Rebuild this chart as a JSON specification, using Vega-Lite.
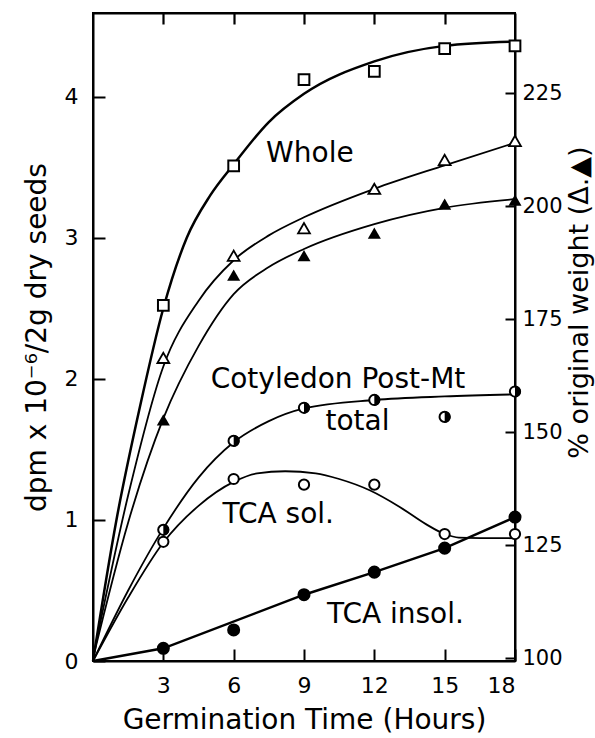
{
  "$schema": "https://vega.github.io/schema/vega-lite/v6.json",
  "autosize": "none",
  "padding": {"left": 93, "top": 13, "right": 80, "bottom": 77},
  "width": 422,
  "height": 648,
  "background": "white",
  "config": {
    "view": {"stroke": "black", "strokeWidth": 2},
    "font": "DejaVu Sans",
    "axis": {
      "grid": false,
      "domainColor": "black",
      "domainWidth": 2,
      "tickColor": "black",
      "tickWidth": 2,
      "labelColor": "black",
      "titleColor": "black",
      "labelFont": "DejaVu Sans",
      "titleFont": "DejaVu Sans",
      "labelFontSize": 22,
      "titleFontWeight": "normal",
      "titleFontSize": 27
    }
  },
  "datasets": {
    "pts": [
      {"t": 3, "v": 2.52, "s": "whole"}, {"t": 6, "v": 3.51, "s": "whole"}, {"t": 9, "v": 4.12, "s": "whole"},
      {"t": 12, "v": 4.18, "s": "whole"}, {"t": 15, "v": 4.34, "s": "whole"}, {"t": 18, "v": 4.36, "s": "whole"},
      {"t": 3, "v": 0.93, "s": "total"}, {"t": 6, "v": 1.56, "s": "total"}, {"t": 9, "v": 1.795, "s": "total"},
      {"t": 12, "v": 1.85, "s": "total"}, {"t": 15, "v": 1.73, "s": "total"}, {"t": 18, "v": 1.91, "s": "total"},
      {"t": 3, "v": 0.845, "s": "sol"}, {"t": 6, "v": 1.29, "s": "sol"}, {"t": 9, "v": 1.25, "s": "sol"},
      {"t": 12, "v": 1.25, "s": "sol"}, {"t": 15, "v": 0.9, "s": "sol"}, {"t": 18, "v": 0.9, "s": "sol"},
      {"t": 3, "v": 0.09, "s": "insol"}, {"t": 6, "v": 0.22, "s": "insol"}, {"t": 9, "v": 0.47, "s": "insol"},
      {"t": 12, "v": 0.63, "s": "insol"}, {"t": 15, "v": 0.8, "s": "insol"}, {"t": 18, "v": 1.02, "s": "insol"}
    ],
    "curves": [
      {"t": 0, "v": 0, "s": "whole"}, {"t": 1, "v": 1.0, "s": "whole"}, {"t": 2, "v": 1.8, "s": "whole"},
      {"t": 3, "v": 2.5, "s": "whole"}, {"t": 4, "v": 3.0, "s": "whole"}, {"t": 5, "v": 3.3, "s": "whole"},
      {"t": 6, "v": 3.52, "s": "whole"}, {"t": 7.5, "v": 3.82, "s": "whole"}, {"t": 9, "v": 4.02, "s": "whole"},
      {"t": 12, "v": 4.25, "s": "whole"}, {"t": 15, "v": 4.36, "s": "whole"}, {"t": 18, "v": 4.39, "s": "whole"},
      {"t": 0, "v": 0, "s": "total"}, {"t": 1.5, "v": 0.5, "s": "total"}, {"t": 3, "v": 0.94, "s": "total"},
      {"t": 4.5, "v": 1.3, "s": "total"}, {"t": 6, "v": 1.55, "s": "total"}, {"t": 7.5, "v": 1.7, "s": "total"},
      {"t": 9, "v": 1.79, "s": "total"}, {"t": 12, "v": 1.85, "s": "total"}, {"t": 15, "v": 1.875, "s": "total"},
      {"t": 18, "v": 1.89, "s": "total"},
      {"t": 0, "v": 0, "s": "sol"}, {"t": 1.5, "v": 0.45, "s": "sol"}, {"t": 3, "v": 0.84, "s": "sol"},
      {"t": 4.5, "v": 1.1, "s": "sol"}, {"t": 6, "v": 1.27, "s": "sol"}, {"t": 7, "v": 1.33, "s": "sol"},
      {"t": 8.2, "v": 1.345, "s": "sol"}, {"t": 9.5, "v": 1.33, "s": "sol"}, {"t": 10.5, "v": 1.29, "s": "sol"},
      {"t": 11.8, "v": 1.21, "s": "sol"}, {"t": 13.1, "v": 1.09, "s": "sol"}, {"t": 14.2, "v": 0.97, "s": "sol"},
      {"t": 15, "v": 0.9, "s": "sol"}, {"t": 15.6, "v": 0.875, "s": "sol"}, {"t": 18, "v": 0.87, "s": "sol"}
    ],
    "insol": [
      {"t": 0, "v": 0}, {"t": 3, "v": 0.09}, {"t": 9, "v": 0.47}, {"t": 12, "v": 0.63}, {"t": 15, "v": 0.8}, {"t": 18, "v": 1.02}
    ],
    "tri": [
      {"t": 3, "p": 166.4, "s": "open"}, {"t": 6, "p": 189, "s": "open"}, {"t": 9, "p": 195.1, "s": "open"},
      {"t": 12, "p": 203.8, "s": "open"}, {"t": 15, "p": 210.2, "s": "open"}, {"t": 18, "p": 214.4, "s": "open"},
      {"t": 3, "p": 152.7, "s": "filled"}, {"t": 6, "p": 184.7, "s": "filled"}, {"t": 9, "p": 189, "s": "filled"},
      {"t": 12, "p": 194, "s": "filled"}, {"t": 15, "p": 200.4, "s": "filled"}, {"t": 18, "p": 201.3, "s": "filled"}
    ],
    "tricurves": [
      {"t": 0, "p": 100, "s": "open"}, {"t": 1.5, "p": 136, "s": "open"}, {"t": 3, "p": 164.5, "s": "open"},
      {"t": 4.5, "p": 179, "s": "open"}, {"t": 6, "p": 188, "s": "open"}, {"t": 7.5, "p": 193.5, "s": "open"},
      {"t": 9, "p": 197.5, "s": "open"}, {"t": 12, "p": 203.8, "s": "open"}, {"t": 15, "p": 209, "s": "open"},
      {"t": 18, "p": 214, "s": "open"},
      {"t": 0, "p": 100, "s": "filled"}, {"t": 1.5, "p": 130, "s": "filled"}, {"t": 3, "p": 153, "s": "filled"},
      {"t": 4.5, "p": 169, "s": "filled"}, {"t": 6, "p": 180.5, "s": "filled"}, {"t": 7.5, "p": 186.5, "s": "filled"},
      {"t": 9, "p": 190.5, "s": "filled"}, {"t": 12, "p": 196, "s": "filled"}, {"t": 15, "p": 199.6, "s": "filled"},
      {"t": 18, "p": 201.5, "s": "filled"}
    ],
    "labels": [
      {"t": 9.25, "v": 3.54, "text": "Whole"},
      {"t": 10.45, "v": 1.935, "text": "Cotyledon Post-Mt"},
      {"t": 11.28, "v": 1.637, "text": "total"},
      {"t": 7.9, "v": 0.976, "text": "TCA sol."},
      {"t": 12.9, "v": 0.267, "text": "TCA insol."}
    ]
  },
  "layer": [
    {
      "encoding": {
        "x": {
          "field": "t", "type": "quantitative",
          "scale": {"domain": [0, 18], "nice": false, "zero": false},
          "axis": {
            "orient": "bottom", "values": [3, 6, 9, 12, 15, 18], "format": "d",
            "tickSize": -12, "labelPadding": 26,
            "title": "Germination Time (Hours)", "titleFontSize": 28, "titlePadding": 10
          }
        },
        "y": {
          "field": "v", "type": "quantitative",
          "scale": {"domain": [0, 4.593], "nice": false, "zero": false},
          "axis": {
            "orient": "left", "values": [0, 1, 2, 3, 4], "format": "d",
            "tickSize": -12, "labelPadding": 27,
            "title": "dpm x 10⁻⁶/2g dry seeds", "titleFontSize": 28, "titlePadding": 13
          }
        }
      },
      "layer": [
        {
          "data": {"name": "curves"},
          "transform": [{"filter": "datum.s === 'whole'"}],
          "mark": {"type": "line", "interpolate": "monotone", "color": "black", "strokeWidth": 2.5}
        },
        {
          "data": {"name": "curves"},
          "transform": [{"filter": "datum.s !== 'whole'"}],
          "mark": {"type": "line", "interpolate": "monotone", "color": "black", "strokeWidth": 1.8},
          "encoding": {"detail": {"field": "s"}}
        },
        {
          "data": {"name": "insol"},
          "mark": {"type": "line", "color": "black", "strokeWidth": 2.5}
        },
        {
          "data": {"name": "pts"},
          "transform": [{"filter": "datum.s === 'whole'"}],
          "mark": {"type": "point", "shape": "square", "filled": true, "fill": "white", "stroke": "black", "strokeWidth": 2, "size": 115, "opacity": 1}
        },
        {
          "data": {"name": "pts"},
          "transform": [{"filter": "datum.s === 'sol' || datum.s === 'total'"}],
          "mark": {"type": "point", "shape": "circle", "filled": true, "fill": "white", "stroke": "black", "strokeWidth": 2, "size": 105, "opacity": 1}
        },
        {
          "data": {"name": "pts"},
          "transform": [{"filter": "datum.s === 'total'"}],
          "mark": {"type": "point", "shape": "M0,-1A1,1,0,0,1,0,1Z", "filled": true, "fill": "black", "strokeWidth": 0, "size": 134, "opacity": 1}
        },
        {
          "data": {"name": "pts"},
          "transform": [{"filter": "datum.s === 'insol'"}],
          "mark": {"type": "point", "shape": "circle", "filled": true, "fill": "black", "size": 170, "opacity": 1}
        },
        {
          "data": {"name": "labels"},
          "mark": {"type": "text", "font": "DejaVu Sans", "fontSize": 28, "align": "center", "baseline": "alphabetic", "color": "black"},
          "encoding": {"text": {"field": "text"}}
        }
      ]
    },
    {
      "encoding": {
        "x": {
          "field": "t", "type": "quantitative",
          "scale": {"domain": [0, 18], "nice": false, "zero": false},
          "axis": {
            "orient": "top", "values": [3, 6, 9, 12, 15], "labels": false, "ticks": true, "domain": true,
            "tickSize": -11, "tickWidth": 2.2, "title": null, "zindex": 2
          }
        },
        "y": {
          "field": "p", "type": "quantitative",
          "scale": {"domain": [99.34, 242.7], "nice": false, "zero": false},
          "axis": {
            "orient": "right", "values": [100, 125, 150, 175, 200, 225], "format": "d",
            "tickSize": -10, "labelPadding": 17, "labelFontSize": 21,
            "title": "% original weight (Δ.▲)", "titleFontSize": 27, "titleAngle": 270,
            "titleBaseline": "top", "titlePadding": 4, "titleY": 289
          }
        }
      },
      "layer": [
        {
          "data": {"name": "tricurves"},
          "mark": {"type": "line", "interpolate": "monotone", "color": "black", "strokeWidth": 1.8},
          "encoding": {"detail": {"field": "s"}}
        },
        {
          "data": {"name": "tri"},
          "transform": [{"filter": "datum.s === 'open'"}],
          "mark": {"type": "point", "shape": "triangle-up", "filled": true, "fill": "white", "stroke": "black", "strokeWidth": 1.8, "size": 140, "opacity": 1}
        },
        {
          "data": {"name": "tri"},
          "transform": [{"filter": "datum.s === 'filled'"}],
          "mark": {"type": "point", "shape": "triangle-up", "filled": true, "fill": "black", "size": 170, "opacity": 1}
        }
      ]
    }
  ],
  "resolve": {"scale": {"y": "independent"}, "axis": {"x": "independent"}}
}
